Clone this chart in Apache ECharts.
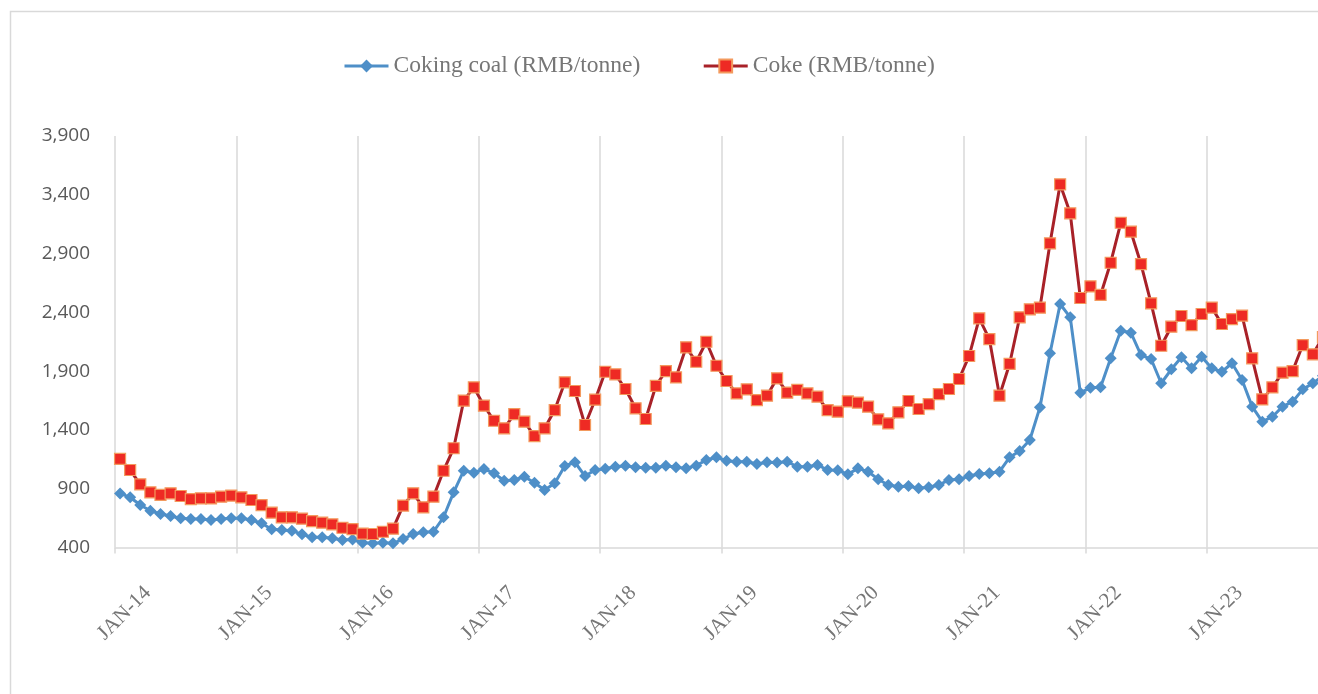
<!DOCTYPE html>
<html>
<head>
<meta charset="utf-8">
<script src="https://cdn.jsdelivr.net/npm/echarts@6/dist/echarts.min.js"></script>
<style>
html,body{margin:0;padding:0;background:#fff;overflow:hidden;width:1318px;height:694px;}
#chart{width:1340px;height:694px;}
</style>
</head>
<body>
<div id="chart"></div>
<script>
// Monthly categories Jan 2014 – Dec 2023
const MONTHS = ['JAN','FEB','MAR','APR','MAY','JUN','JUL','AUG','SEP','OCT','NOV','DEC'];
const YEARS = ['14','15','16','17','18','19','20','21','22','23'];
const categories = [];
YEARS.forEach(y => MONTHS.forEach(m => categories.push(m + '-' + y)));

const cokingCoal = [
  860, 827, 761, 713, 685, 668, 648, 642, 642, 634, 642, 648,
  648, 634, 606, 555, 549, 543, 512, 487, 487, 478, 464, 467,
  440, 436, 441, 436, 472, 515, 529, 534, 657, 869, 1053, 1036,
  1068, 1031, 968, 974, 1002, 951, 889, 946, 1093, 1125, 1008, 1059,
  1070, 1087, 1096, 1082, 1079, 1079, 1096, 1082, 1073, 1096, 1144, 1167,
  1138, 1130, 1130, 1110, 1125, 1122, 1130, 1087, 1087, 1102, 1059, 1056,
  1023, 1073, 1045, 980, 932, 917, 923, 903, 912, 932, 974, 980,
  1008, 1025, 1031, 1045, 1167, 1221, 1314, 1592, 2052, 2471, 2358, 1717,
  1758, 1762, 2009, 2244, 2227, 2037, 2003, 1797, 1916, 2018, 1924, 2023,
  1924, 1895, 1967, 1825, 1598, 1470, 1512, 1598, 1640, 1745, 1797, 1860
];
const coke = [
  1153, 1059, 937, 869, 847, 861, 838, 812, 818, 818, 832, 841,
  827, 804, 761, 696, 657, 657, 645, 625, 611, 597, 568, 557,
  518, 515, 534, 560, 756, 861, 742, 832, 1053, 1244, 1649, 1762,
  1606, 1478, 1414, 1535, 1470, 1348, 1414, 1569, 1805, 1731, 1442, 1657,
  1895, 1873, 1748, 1584, 1493, 1774, 1901, 1847, 2103, 1980, 2150, 1946,
  1816, 1711, 1745, 1654, 1691, 1839, 1717, 1740, 1711, 1683, 1569, 1555,
  1643, 1632, 1598, 1490, 1456, 1550, 1646, 1578, 1620, 1705, 1748, 1833,
  2029, 2349, 2173, 1691, 1961, 2358, 2426, 2440, 2987, 3489, 3242, 2522,
  2621, 2548, 2822, 3162, 3086, 2811, 2477, 2116, 2278, 2369, 2292, 2386,
  2440, 2301, 2343, 2372, 2009, 1660, 1762, 1887, 1901, 2122, 2043, 2190
];
const seriesNames = ['Coking coal (RMB/tonne)', 'Coke (RMB/tonne)'];
const yMin = 400, yMax = 3900, yStep = 500;

const chart = echarts.init(document.getElementById('chart'), null, {renderer: 'canvas'});
chart.setOption({
  animation: false,
  backgroundColor: '#ffffff',
  graphic: [{
    type: 'rect',
    left: 8, top: 9,
    shape: {x: 0, y: 0, width: 1400, height: 800},
    style: {fill: 'none', stroke: '#d9d9d9', lineWidth: 1.5},
    silent: true, z: -1
  }],
  legend: {
    left: 338, top: 49,
    itemWidth: 44, itemHeight: 16, itemGap: 62,
    lineStyle: {width: 3},
    textStyle: {fontFamily: 'Liberation Serif', fontSize: 23.5, color: '#767676'},
    data: seriesNames
  },
  grid: {left: 115, top: 136, width: 1213, bottom: 146.5, containLabel: false},
  xAxis: {
    type: 'category',
    data: categories,
    boundaryGap: true,
    axisLine: {show: true, lineStyle: {color: '#d9d9d9', width: 1.5}},
    axisTick: {show: true, interval: 11, length: 6, inside: false, lineStyle: {color: '#d9d9d9', width: 1.5}},
    splitLine: {show: true, interval: 11, lineStyle: {color: '#d9d9d9', width: 1.5}},
    axisLabel: {
      interval: 11, rotate: 45, margin: 70,
      align: 'center', verticalAlign: 'middle',
      padding: [0, 0, 0, 12],
      fontFamily: 'Liberation Serif', fontSize: 21, color: '#767676'
    }
  },
  yAxis: {
    type: 'value',
    min: yMin, max: yMax, interval: yStep,
    axisLine: {show: false},
    axisTick: {show: false},
    splitLine: {show: false},
    axisLabel: {
      margin: 25,
      fontFamily: 'Open Sans', fontSize: 19, color: '#595959',
      formatter: v => v.toLocaleString('en-US')
    }
  },
  series: [
    {
      name: seriesNames[0], type: 'line', data: cokingCoal,
      symbol: 'diamond', symbolSize: 12, showAllSymbol: true,
      lineStyle: {color: '#4e8fc8', width: 3},
      itemStyle: {color: '#4e8fc8', borderColor: '#4e8fc8', borderWidth: 0},
      z: 2
    },
    {
      name: seriesNames[1], type: 'line', data: coke,
      symbol: 'rect', symbolSize: 11, showAllSymbol: true,
      lineStyle: {color: '#a82128', width: 3},
      itemStyle: {color: '#ee2a24', borderColor: '#f39a5e', borderWidth: 1.2},
      z: 3
    }
  ]
});
</script>
</body>
</html>
